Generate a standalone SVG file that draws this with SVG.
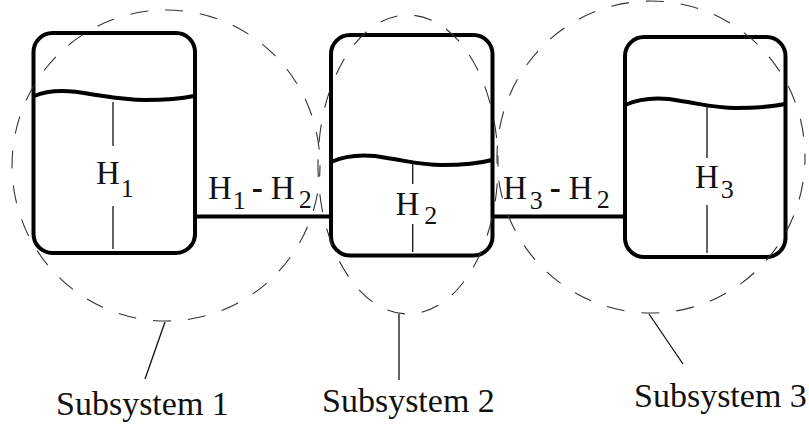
<svg xmlns="http://www.w3.org/2000/svg" width="809" height="427" viewBox="0 0 809 427">
<style>
.bg{fill:#fff}
.tank{fill:none;stroke:#000;stroke-width:4}
.wave{fill:none;stroke:#000;stroke-width:4}
.thin{fill:none;stroke:#111;stroke-width:1.3}
.dash{fill:none;stroke:#333;stroke-width:1.1;stroke-dasharray:18 17}
.conn{fill:none;stroke:#000;stroke-width:4}
text{font-family:"Liberation Serif","Times New Roman",serif;fill:#111;font-size:33px}
.cap{font-size:34px}
.sub{font-size:26px}
.minus{font-weight:bold}
</style>
<rect class="bg" width="809" height="427"/>
<g id="connectors">
<line class="conn" x1="195" y1="216.5" x2="331" y2="216.500"/>
<line class="conn" x1="493" y1="216.5" x2="625" y2="216.500"/>
</g>
<g id="tank1">
<rect class="tank" x="33.5" y="33" width="161.5" height="220" rx="19"/>
<path class="wave" d="M34 96C50 89 70 90 90 94C110 97 125 100 145 100C165 100 180 99 194 96"/>
<line class="thin" x1="113" y1="102" x2="113" y2="146"/>
<line class="thin" x1="113" y1="206" x2="113" y2="249"/>
<text x="96" y="184">H<tspan class="sub" dx="1" dy="13">1</tspan></text>
</g>
<g id="tank2">
<rect class="tank" x="331" y="35" width="161.5" height="220.5" rx="19"/>
<path class="wave" d="M331 162C347 155 367 154 387 158C407 161 422 165 442 165C462 165 477 164 492 160"/>
<line class="thin" x1="412.7" y1="163" x2="412.700" y2="184"/>
<line class="thin" x1="412.7" y1="224" x2="412.700" y2="252"/>
<text x="395.500" y="215">H<tspan class="sub" dx="5" dy="9">2</tspan></text>
</g>
<g id="tank3">
<rect class="tank" x="625" y="37" width="160.5" height="220" rx="19"/>
<path class="wave" d="M625 105C641 98 661 97 681 101C701 104 716 108 736 108C756 108 771 107 785 104"/>
<line class="thin" x1="707" y1="106" x2="707" y2="158"/>
<line class="thin" x1="707" y1="205" x2="707" y2="253"/>
<text x="695" y="188">H<tspan class="sub" dx="2" dy="10">3</tspan></text>
</g>
<g id="label12">
<text x="208" y="199">H<tspan class="sub" dx="1" dy="10">1</tspan><tspan class="minus" dx="6" dy="-10">-</tspan><tspan dx="8">H</tspan><tspan class="sub" dx="4" dy="9">2</tspan></text>
</g>
<g id="label32">
<text x="503" y="199">H<tspan class="sub" dx="3" dy="10">3</tspan><tspan class="minus" dx="7" dy="-10">-</tspan><tspan dx="8">H</tspan><tspan class="sub" dx="4" dy="9">2</tspan></text>
</g>
<g id="subsystem1">
<ellipse class="dash" cx="166" cy="165.500" rx="154" ry="155.500" stroke-dashoffset="7"/>
<line class="thin" x1="165" y1="322" x2="145" y2="379"/>
<text class="cap" x="56" y="415">Subsystem 1</text>
</g>
<g id="subsystem2">
<ellipse class="dash" cx="408" cy="164.500" rx="90" ry="149.500" stroke-dashoffset="16"/>
<line class="thin" x1="399" y1="314" x2="399" y2="380"/>
<text class="cap" x="322" y="412">Subsystem 2</text>
</g>
<g id="subsystem3">
<ellipse class="dash" cx="651" cy="157" rx="154" ry="156" stroke-dashoffset="10"/>
<line class="thin" x1="649" y1="314" x2="683" y2="364"/>
<text class="cap" x="634" y="407">Subsystem 3</text>
</g>
</svg>
